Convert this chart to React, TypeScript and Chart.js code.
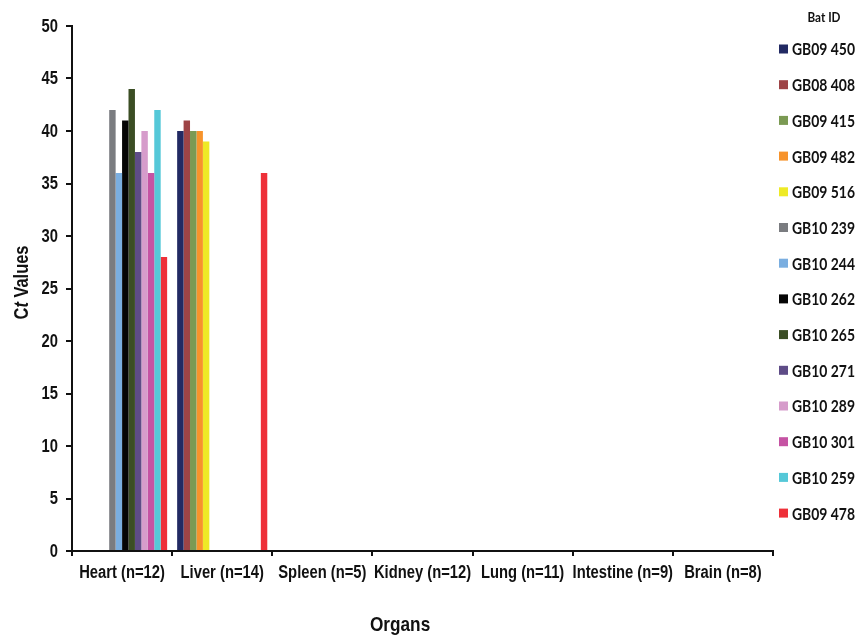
import React, { useEffect, useRef } from "react";
import { Chart, registerables } from "chart.js";

Chart.register(...registerables);

const organs = [
  "Heart (n=12)",
  "Liver (n=14)",
  "Spleen (n=5)",
  "Kidney (n=12)",
  "Lung (n=11)",
  "Intestine (n=9)",
  "Brain (n=8)",
];

const batIds = [
  "GB09 450",
  "GB08 408",
  "GB09 415",
  "GB09 482",
  "GB09 516",
  "GB10 239",
  "GB10 244",
  "GB10 262",
  "GB10 265",
  "GB10 271",
  "GB10 289",
  "GB10 301",
  "GB10 259",
  "GB09 478",
];

const batColors = [
  "#222a63",
  "#9e4446",
  "#7b9a53",
  "#f7932b",
  "#eeea26",
  "#7a7c80",
  "#7aaee0",
  "#050505",
  "#3b4e24",
  "#5e4c87",
  "#d69ccb",
  "#c553a3",
  "#55c8d8",
  "#ee3039",
];

// Ct values per bat, one entry per organ (null = not detected)
const heartCt = [null, null, null, null, null, 42, 36, 41, 44, 38, 40, 36, 42, 28];
const liverCt = [40, 41, 40, 40, 39, null, null, null, null, null, null, null, null, 36];

const yTicks = [0, 5, 10, 15, 20, 25, 30, 35, 40, 45, 50];

const axisFont = "'Liberation Sans', Arial, sans-serif";
const legendFont = "Lato, 'Open Sans', sans-serif";
const NARROW = 0.82;

function seriesFor(i: number): (number | null)[] {
  return organs.map((_, o) => {
    if (o === 0) return heartCt[i];
    if (o === 1) return liverCt[i];
    return null;
  });
}

function narrowText(
  ctx: CanvasRenderingContext2D,
  text: string,
  x: number,
  y: number,
  align: "left" | "center" | "right",
  sx: number
) {
  ctx.save();
  ctx.translate(x, y);
  ctx.scale(sx, 1);
  ctx.textAlign = align;
  ctx.textBaseline = "middle";
  ctx.fillText(text, 0, 0);
  ctx.restore();
}

const overlayPlugin = {
  id: "overlay",
  afterDraw(chart: any) {
    const ctx = chart.ctx as CanvasRenderingContext2D;
    const area = chart.chartArea;
    const xs = chart.scales.x;
    const ys = chart.scales.y;
    ctx.save();
    ctx.fillStyle = "#111";

    // Tick labels (Arial Narrow style)
    ctx.font = `bold 18px ${axisFont}`;
    organs.forEach((lab, i) => {
      narrowText(ctx, lab, xs.getPixelForTick(i), 573, "center", NARROW);
    });
    ctx.font = `bold 18px ${axisFont}`;
    yTicks.forEach((v) => {
      narrowText(ctx, String(v), area.left - 14, ys.getPixelForValue(v) + 1, "right", NARROW);
    });

    // Y axis title: C (bold) t (bold italic) Values (bold)
    ctx.save();
    ctx.translate(22, (area.top + area.bottom) / 2 - 6);
    ctx.rotate(-Math.PI / 2);
    ctx.scale(NARROW, 1);
    ctx.textBaseline = "middle";
    ctx.textAlign = "left";
    const parts: [string, string][] = [
      ["C", `bold 20px ${axisFont}`],
      ["t", `italic bold 20px ${axisFont}`],
      [" Values", `bold 20px ${axisFont}`],
    ];
    let total = 0;
    for (const [t, f] of parts) {
      ctx.font = f;
      total += ctx.measureText(t).width;
    }
    let x = -total / 2;
    for (const [t, f] of parts) {
      ctx.font = f;
      ctx.fillText(t, x, 0);
      x += ctx.measureText(t).width;
    }
    ctx.restore();

    // X axis title
    ctx.font = `bold 21px ${axisFont}`;
    narrowText(ctx, "Organs", area.left + area.width * 0.468, 625, "center", NARROW);

    // Legend
    const lx = area.right + 6;
    ctx.font = `bold 13px ${legendFont}`;
    narrowText(ctx, "Bat ID", lx + 45, 18, "center", 0.9);
    ctx.font = `bold 17px ${legendFont}`;
    const sx = Math.min(1, 63 / ctx.measureText("GB10 244").width);
    chart.data.datasets.forEach((ds: any, i: number) => {
      const cy = 49 + i * 35.7;
      ctx.fillStyle = ds.backgroundColor;
      ctx.fillRect(lx, cy - 4.5, 9, 9);
      ctx.fillStyle = "#111";
      narrowText(ctx, ds.label, lx + 13, cy + 1, "left", sx);
    });
    ctx.restore();
  },
};

export default function App() {
  const ref = useRef<HTMLCanvasElement | null>(null);

  useEffect(() => {
    document.body.style.margin = "0";
    if (!ref.current) return;
    const chart = new Chart(ref.current, {
      type: "bar",
      data: {
        labels: organs,
        datasets: batIds.map((id, i) => ({
          label: id,
          data: seriesFor(i),
          backgroundColor: batColors[i],
          borderWidth: 0,
          categoryPercentage: 0.9,
          barPercentage: 1.0,
        })),
      },
      options: {
        responsive: false,
        animation: false,
        layout: { padding: { left: 0, right: 84, top: 26, bottom: 0 } },
        plugins: {
          legend: { display: false },
          tooltip: { enabled: false },
          title: { display: false },
        },
        scales: {
          x: {
            grid: {
              display: true,
              drawOnChartArea: false,
              drawTicks: true,
              tickLength: 5,
              color: "#111",
              lineWidth: 2,
              offset: true,
            },
            border: { display: true, color: "#111", width: 2 },
            ticks: {
              color: "rgba(0,0,0,0)",
              font: { family: axisFont, size: 14, weight: "bold" },
              padding: 9,
              maxRotation: 0,
              autoSkip: false,
            },
            afterFit(scale: any) {
              scale.height = 85;
            },
          },
          y: {
            min: 0,
            max: 50,
            afterBuildTicks(scale: any) {
              scale.ticks = yTicks.map((v) => ({ value: v }));
            },
            grid: {
              display: true,
              drawOnChartArea: false,
              drawTicks: true,
              tickLength: 6,
              color: "#111",
              lineWidth: 2,
            },
            border: { display: true, color: "#111", width: 2 },
            ticks: {
              color: "rgba(0,0,0,0)",
              font: { family: axisFont, size: 16, weight: "bold" },
              padding: 7,
            },
            afterFit(scale: any) {
              scale.width = 72;
            },
          },
        },
      },
      plugins: [overlayPlugin],
    });
    return () => chart.destroy();
  }, []);

  return (
    <div style={{ width: 857, height: 636, background: "#fff" }}>
      <canvas ref={ref} width={857} height={636} />
    </div>
  );
}
